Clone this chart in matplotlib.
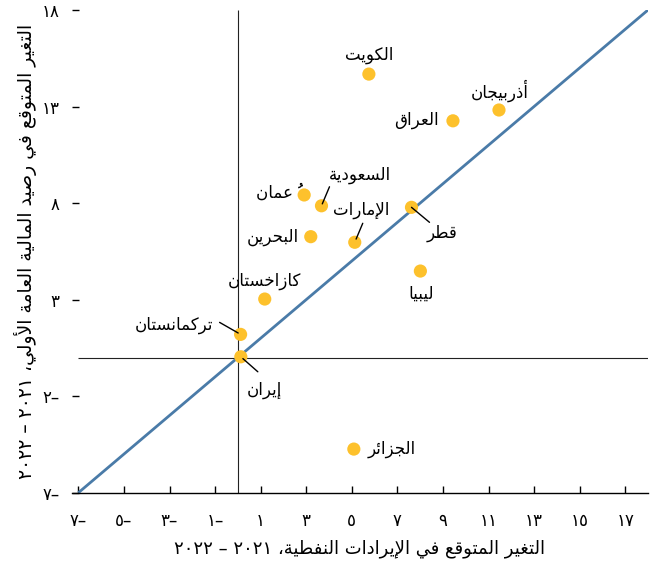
import matplotlib
matplotlib.use("Agg")
import matplotlib.pyplot as plt

# --- Arabic text helpers (matplotlib has no shaping / bidi) ---
_LETTERS = "ءآأؤإئابةتثجحخدذرزسشصضطظعغفقكلمنهوىي"
_NFORMS = [1, 2, 2, 2, 2, 4, 2, 4, 2, 4, 4, 4, 4, 4, 2, 2, 2, 2,
           4, 4, 4, 4, 4, 4, 4, 4, 4, 4, 4, 4, 4, 4, 4, 2, 2, 4]
FORMS = {}
_code = 0xFE80
for _ch, _n in zip(_LETTERS, _NFORMS):
    FORMS[_ch] = (_code, _n)
    _code += _n
LAM_ALEF = {"آ": 0xFEF5, "أ": 0xFEF7, "إ": 0xFEF9, "ا": 0xFEFB}
MARKS = set(chr(c) for c in range(0x064B, 0x0660)) | {"\u0670"}
DIGITS = set("٠١٢٣٤٥٦٧٨٩0123456789")


def shape(text):
    chars = list(text)
    n = len(chars)

    def neighbour(i, step):
        j = i + step
        while 0 <= j < n and chars[j] in MARKS:
            j += step
        return j if 0 <= j < n else None

    out, skip = [], set()
    for i, c in enumerate(chars):
        if i in skip:
            continue
        if c not in FORMS:
            out.append(c)
            continue
        p = neighbour(i, -1)
        q = neighbour(i, 1)
        prev = chars[p] if p is not None else None
        nxt = chars[q] if q is not None else None
        joins_prev = prev in FORMS and FORMS[prev][1] == 4 and FORMS[c][1] > 1
        if c == "ل" and nxt in LAM_ALEF:
            skip.add(q)
            out.append(chr(LAM_ALEF[nxt] + (1 if joins_prev else 0)))
            continue
        joins_next = FORMS[c][1] == 4 and nxt in FORMS and FORMS[nxt][1] > 1
        base, nf = FORMS[c]
        if nf == 1:
            form = 0
        elif joins_prev and joins_next:
            form = 3
        elif joins_prev:
            form = 1
        elif joins_next:
            form = 2
        else:
            form = 0
        out.append(chr(base + form))
    return "".join(out)


def ar(text):
    s = shape(text)
    tokens = []
    for c in s:
        if c in MARKS and tokens:
            # a thin spacer pulls the zero-width mark back over its letter
            tokens[-1] += "\u2009" + c
        elif c in DIGITS and tokens and tokens[-1][-1] in DIGITS:
            tokens[-1] += c
        else:
            tokens.append(c)
    return "".join(reversed(tokens))


def ar_num(v):
    digits = "".join("٠١٢٣٤٥٦٧٨٩"[int(d)] for d in str(abs(v)))
    return ar(("–" if v < 0 else "") + digits)


# --- data ---
countries = ["الكويت", "أذربيجان", "العراق", "عُمان", "السعودية", "قطر", "البحرين",
             "الإمارات", "ليبيا", "كازاخستان", "تركمانستان", "إيران", "الجزائر"]
oil_revenue_change = [5.75, 11.46, 9.44, 2.91, 3.67, 7.62, 3.20, 5.13, 8.01, 1.18, 0.12, 0.13, 5.09]
fiscal_balance_change = [14.68, 12.82, 12.26, 8.42, 7.86, 7.78, 6.26, 5.97, 4.48, 3.03, 1.20, 0.04, -4.74]

x_ticks = [-7, -5, -3, -1, 1, 3, 5, 7, 9, 11, 13, 15, 17]
y_ticks = [-7, -2, 3, 8, 13, 18]
diag = [-7, 18]

x_title = "التغير المتوقع في الإيرادات النفطية، ٢٠٢١ – ٢٠٢٢"
y_title = "التغير المتوقع في رصيد المالية العامة الأولي، ٢٠٢١ – ٢٠٢٢"

# label placement (offset pixels from the point, ha) and optional leader end
label_pos = [(0, 19, "center"), (1, 19, "center"), (-14, 1, "right"), (-8, 2, "right"),
             (38, 31, "center"), (31, -26, "center"), (-12, 0, "right"), (6, 32, "center"),
             (1, -23, "center"), (0, 18, "center"), (-27, 9, "right"), (24, -33, "center"),
             (14, 0, "left")]
leaders = {"السعودية": (8, 19, 1.5), "الإمارات": (8, 19, 2.5), "قطر": (18, -15, 0),
           "تركمانستان": (-21, 12, 2), "إيران": (17, -15, 2)}

fig = plt.figure(figsize=(6.58, 5.67), dpi=100)
ax = fig.add_axes([0.1094, 0.131, 0.8754, 0.8514])

ax.vlines(0, -7, 18, color="#222222", lw=0.8, zorder=1)
ax.hlines(0, -7, 18, color="#222222", lw=0.8, zorder=1)
ax.plot(diag, diag, color="#4A7BA8", lw=2.0, zorder=2, solid_capstyle="butt")
ax.scatter(oil_revenue_change, fiscal_balance_change, s=90, color="#FDC12C",
           edgecolors="none", zorder=3)

for name, x, y, (dx, dy, ha) in zip(countries, oil_revenue_change, fiscal_balance_change, label_pos):
    ax.annotate(ar(name), (x, y), xytext=(dx, dy), textcoords="offset pixels",
                ha=ha, va="center", fontsize=12, zorder=5)
    if name in leaders:
        lx, ly, sh = leaders[name]
        ax.annotate("", (x, y), xytext=(lx, ly), textcoords="offset pixels",
                    arrowprops=dict(arrowstyle="-", color="black", lw=1.0,
                                    shrinkA=0, shrinkB=sh), zorder=4)

ax.set_xlim(-7.28, 18)
ax.set_ylim(-7, 18)
ax.set_xticks(x_ticks)
ax.set_xticklabels([ar_num(v) for v in x_ticks])
ax.set_yticks(y_ticks)
ax.set_yticklabels([ar_num(v) for v in y_ticks])

for side in ["left", "top", "right"]:
    ax.spines[side].set_visible(False)
ax.spines["bottom"].set_linewidth(1.0)
ax.tick_params(axis="x", direction="in", length=5, width=1, pad=14, labelsize=12)
ax.tick_params(axis="y", direction="in", length=5, width=1, pad=9, labelsize=12)

ax.set_xlabel(ar(x_title), fontsize=13, labelpad=7)
ax.set_ylabel(ar(y_title), fontsize=13.5, labelpad=3)

fig.savefig("out.png", dpi=100)
